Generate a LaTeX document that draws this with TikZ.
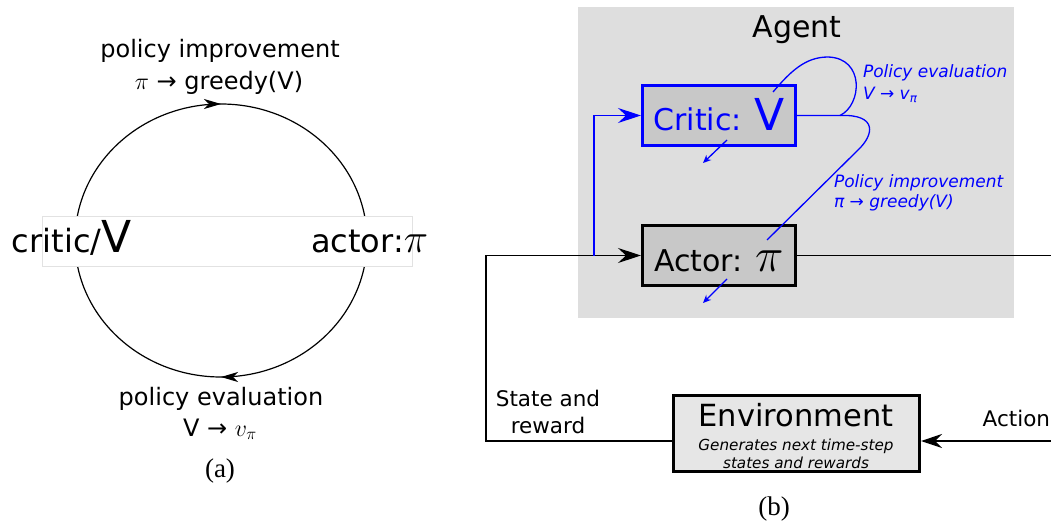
\RequirePackage{fix-cm}
\documentclass[tikz,border=0pt]{standalone}
\usepackage{fontspec}
\setmainfont{DejaVu Sans}
\newfontfamily\serifa{Liberation Serif}
\usetikzlibrary{arrows.meta,decorations.markings,calc}
\definecolor{agentbg}{HTML}{DEDEDE}
\definecolor{boxfill}{HTML}{C8C8C8}
\definecolor{envfill}{HTML}{E6E6E6}
\definecolor{lblborder}{HTML}{E2E2E2}
\newcommand{\fsz}[1]{\fontsize{#1}{#1}\selectfont}
\begin{document}
\begin{tikzpicture}[x=1pt,y=-1pt,
  txt/.style={inner sep=0pt, outer sep=0pt},
  cyclearrow/.style={postaction={decorate}, decoration={markings,
     mark=at position 0.5 with {\arrow{Stealth[length=17pt,width=10pt,inset=5pt]}}}},
  agentbox/.style={draw, line width=3pt, fill=boxfill, inner sep=0pt,
     text height=31pt, text depth=0pt},
  bigtip/.style={-{Stealth[length=23pt,width=15pt,inset=8pt]}},
  smalltip/.style={-{Stealth[length=8pt,width=7pt,inset=2.5pt]}},
  mainline/.style={line width=1.5pt},
  blueline/.style={draw=blue, line width=1.3pt},
  bluelbl/.style={txt, text=blue, anchor=base west, font=\fsz{17}\itshape},
]
\useasboundingbox (0,0) rectangle (1051,524);

% ---------------- (a) ----------------
\coordinate (cl) at (75,240.5);
\coordinate (cr) at (367,240.5);
\draw[line width=1.2pt, cyclearrow] (cl) arc[start angle=180, end angle=360, x radius=146, y radius=136.5];
\draw[line width=1.2pt, cyclearrow] (cr) arc[start angle=0, end angle=180, x radius=146, y radius=136.5];
\node[draw=lblborder, fill=white, line width=0.6pt, minimum width=370pt, minimum height=50pt, inner sep=0pt] (lblbox) at (227,241) {};
\node[txt, anchor=base west] (criticlbl) at (12,252) {\fsz{32}critic/\fsz{44}V};
\node[txt, anchor=base east] (actorlbl) at (428,252) {\fsz{32}actor:\fsz{41}$\pi$};
\node[txt, anchor=base] (pi1) at (220,58) {\fsz{24}policy improvement};
\node[txt, anchor=base] (pi2) at (219,90) {\fsz{24}$\pi$ → greedy(V)};
\node[txt, anchor=base] (pe1) at (221,405) {\fsz{24}policy evaluation};
\node[txt, anchor=base] (pe2) at (220,436) {\fsz{24}V → $v_\pi$};
\node[txt, anchor=base] (capa) at (220,477) {\serifa\fsz{27}(a)};

% ---------------- (b) ----------------
\node[fill=agentbg, minimum width=436pt, minimum height=311pt, inner sep=0pt] (agent) at (796,162.5) {};
\node[txt, anchor=base] (agentlbl) at (797,38) {\fsz{30}Agent};

\node[agentbox, draw=blue, text=blue, minimum width=153pt, minimum height=60pt] (critic) at (719,115.5)
  {\fsz{30}Critic: \fsz{44}V};
\node[agentbox, minimum width=153pt, minimum height=60pt] (actor) at (719,255.5)
  {\fsz{30}Actor: \fsz{48}$\pi$};

\node[draw, line width=3pt, fill=envfill, minimum width=246pt, minimum height=76pt, inner sep=0pt] (env) at (796.5,433.5) {};
\node[txt, anchor=base] (envt) at (796,426) {\fsz{30.5}Environment};
\node[txt, anchor=base] (envs1) at (796,450) {\fsz{15.2}\itshape Generates next time-step};
\node[txt, anchor=base] (envs2) at (796,468.5) {\fsz{15.2}\itshape states and rewards};

% main loop
\coordinate (sr) at (486,441);
\coordinate (rightin) at (1051,441);
\coordinate (rightout) at (1051,255.5);
\coordinate (split) at (594,255.5);
\draw[mainline, bigtip] (env.west |- sr) -- (sr) -- (sr |- actor.west) -- (actor.west);
\draw[mainline] (actor.east) -- (rightout);
\draw[mainline, -{Stealth[length=21pt,width=14pt,inset=7pt]}] (rightin) -- (env.east |- rightin);
\draw[blueline, bigtip] (split) |- (critic.west);

\node[txt, anchor=base] (sr1) at (548,406) {\fsz{21.5}State and};
\node[txt, anchor=base] (sr2) at (548,433) {\fsz{21.5}reward};
\node[txt, anchor=base east] (act) at (1050,426) {\fsz{21.5}Action};

% blue curves
\coordinate (junc) at (840,115.5);
\draw[blueline] (critic.east) -- (junc)
  .. controls (862,105) and (865,58) .. (828,57)
  .. controls (805,57) and (790,72) .. ($(critic.north)+(54,8)$);
\draw[blueline] (junc) .. controls (878,114) and (874,135) .. (858,150)
  -- ($(actor.north)+(48,16)$);

\draw[blueline, smalltip] ($(critic.south)+(8,-7)$) -- ($(critic.south)+(-16,16)$);
\draw[blueline, smalltip] ($(actor.south)+(8,-8)$) -- ($(actor.south)+(-16,16)$);

\node[bluelbl] (pel1) at (863,78) {Policy evaluation};
\node[bluelbl] (pel2) at (863,100) {V → v\textsubscript{π}};
\node[bluelbl] (pil1) at (834,187) {Policy improvement};
\node[bluelbl] (pil2) at (834,207) {π → greedy(V)};

\node[txt, anchor=base] (capb) at (774,515) {\serifa\fsz{27}(b)};
\end{tikzpicture}
\end{document}
